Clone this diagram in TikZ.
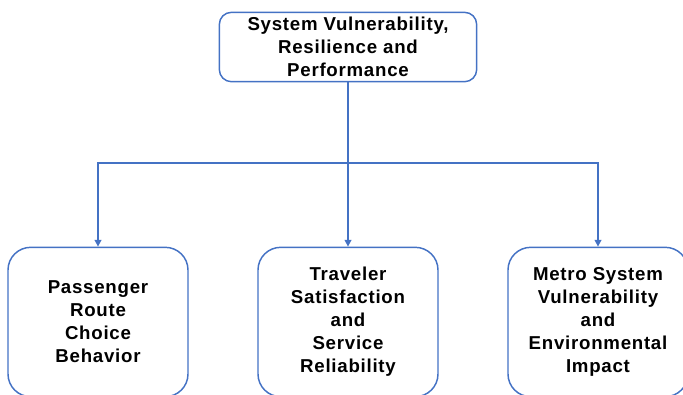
\documentclass[tikz,border=0pt]{standalone}
\usepackage{fontspec}
\setmainfont{Liberation Sans}[LetterSpace=4]
\usetikzlibrary{arrows.meta,positioning}
\definecolor{linkblue}{RGB}{68,114,196}

\begin{document}
\begin{tikzpicture}[x=0.75pt, y=-0.75pt,
  topic/.style={draw=linkblue, line width=1.1pt, align=center, inner sep=0pt,
    font=\bfseries\fontsize{14}{17.2}\selectfont},
  headbox/.style={topic, rounded corners=9pt, minimum width=193pt, minimum height=52pt},
  leafbox/.style={topic, rounded corners=17pt, minimum width=135pt, minimum height=112pt},
  link/.style={linkblue, line width=1.1pt},
  linkarrow/.style={link, -{Triangle[length=5pt, width=5pt]}}]

% ── Canvas ───────────────────────────────────────────────────────────
\def\picW{683}
\def\picH{394}
\def\splitY{163}   % height of the horizontal branch line
\def\leafY{322}    % centre line of the three lower boxes
\useasboundingbox (0,0) rectangle (\picW,\picH);
\clip (0,0) rectangle (\picW,\picH);

% ── Boxes ────────────────────────────────────────────────────────────
\node[headbox] (system) at (348,47)
  {System Vulnerability,\\Resilience and\\Performance};
\node[leafbox] (route) at (98,\leafY)
  {Passenger\\Route\\Choice\\Behavior};
\node[leafbox] (service) at (348,\leafY)
  {Traveler\\Satisfaction\\and\\Service\\Reliability};
\node[leafbox] (metro) at (598,\leafY)
  {Metro System\\Vulnerability\\and\\Environmental\\Impact};

% ── Connectors ───────────────────────────────────────────────────────
\coordinate (split) at (system.south |- 0,\splitY);
\draw[link] (system.south) -- (split);
\draw[linkarrow] (split) -| (route.north);
\draw[linkarrow] (split) -- (service.north);
\draw[linkarrow] (split) -| (metro.north);

\end{tikzpicture}
\end{document}
